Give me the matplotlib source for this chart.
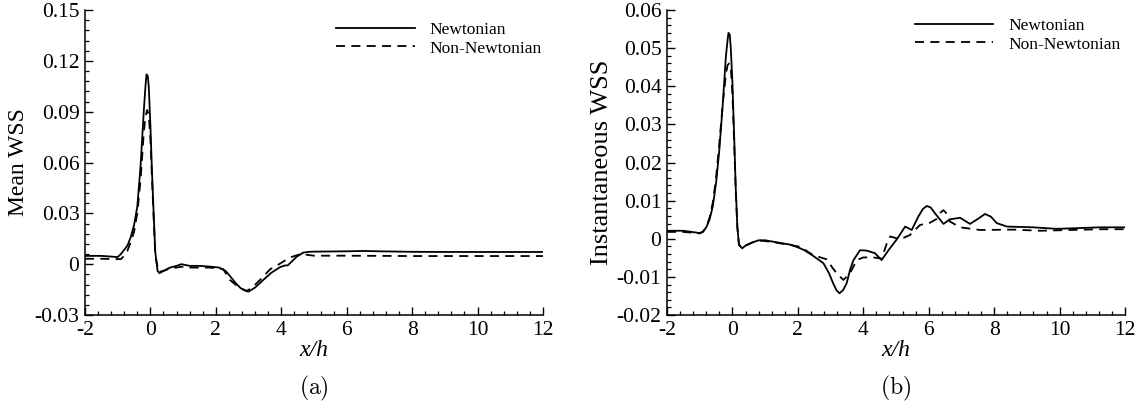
import matplotlib
matplotlib.use("Agg")
from matplotlib import pyplot as plt
from matplotlib.ticker import MultipleLocator, AutoMinorLocator

plt.rcParams['font.family'] = ['Liberation Serif', 'DejaVu Serif']
plt.rcParams['mathtext.fontset'] = 'cm'

# (a) mean wall shear stress
xa_newt = [-2.0, -1.5, -1.0, -0.9, -0.8, -0.7, -0.6, -0.5, -0.4, -0.3, -0.2, -0.15, -0.12,
           -0.08, -0.05, 0.0, 0.05, 0.1, 0.15, 0.22, 0.28, 0.4, 0.6, 0.8, 0.95, 1.2, 1.5,
           1.8, 2.1, 2.3, 2.45, 2.6, 2.75, 2.9, 3.0, 3.2, 3.45, 3.7, 3.96, 4.1, 4.2,
           4.47, 4.67, 4.85, 5.0, 5.5, 6.0, 6.5, 7.0, 8.0, 9.0, 10.0, 11.0, 12.0]
ya_newt = [0.0049, 0.0049, 0.0042, 0.006, 0.0085, 0.011, 0.016, 0.023, 0.034, 0.058, 0.091,
           0.105, 0.112, 0.111, 0.105, 0.082, 0.054, 0.030, 0.007, -0.004, -0.0053, -0.004,
           -0.002, -0.001, 0.0, -0.001, -0.001, -0.0014, -0.002, -0.004, -0.0074, -0.011,
           -0.014, -0.0157, -0.0162, -0.0138, -0.0093, -0.005, -0.0018, -0.0008, -0.0007,
           0.0044, 0.0068, 0.0073, 0.0074, 0.0075, 0.0076, 0.0078, 0.0076, 0.0073, 0.0072,
           0.0072, 0.0072, 0.0072]

xa_non = [-2.0, -1.5, -1.0, -0.9, -0.8, -0.7, -0.6, -0.5, -0.4, -0.3, -0.2, -0.15, -0.1,
          -0.05, 0.0, 0.05, 0.1, 0.15, 0.25, 0.4, 0.6, 0.8, 0.95, 1.2, 1.5, 1.8, 2.1, 2.23,
          2.43, 2.6, 2.74, 2.95, 3.1, 3.35, 3.66, 3.96, 4.27, 4.6, 4.8, 5.0, 6.0, 8.0, 10.0, 12.0]
ya_non = [0.0032, 0.0032, 0.003, 0.003, 0.005, 0.008, 0.013, 0.019, 0.030, 0.050, 0.078,
          0.087, 0.091, 0.088, 0.074, 0.050, 0.027, 0.005, -0.0045, -0.004, -0.0025,
          -0.002, -0.0015, -0.002, -0.002, -0.002, -0.0025, -0.003, -0.0093, -0.012,
          -0.0142, -0.0157, -0.014, -0.0093, -0.003, 0.0003, 0.004, 0.006, 0.0055, 0.005,
          0.005, 0.0048, 0.0048, 0.0048]

# (b) instantaneous wall shear stress
xb_newt = [-2.0, -1.5, -1.0, -0.9, -0.8, -0.7, -0.6, -0.5, -0.4, -0.3, -0.2, -0.15, -0.12,
           -0.08, -0.05, 0.0, 0.05, 0.1, 0.15, 0.2, 0.3, 0.4, 0.6, 0.8, 1.0, 1.4, 1.8, 2.07,
           2.2, 2.47, 2.78, 2.95, 3.08, 3.18, 3.27, 3.38, 3.49, 3.6, 3.7, 3.9, 4.1, 4.36,
           4.56, 4.77, 5.02, 5.28, 5.48, 5.68, 5.82, 5.94, 6.06, 6.19, 6.45, 6.65, 6.96,
           7.26, 7.5, 7.72, 7.9, 8.08, 8.39, 9.2, 9.91, 11.24, 12.0]
yb_newt = [0.0021, 0.0021, 0.0015, 0.0019, 0.003, 0.005, 0.0085, 0.0146, 0.0233, 0.0347,
           0.0478, 0.052, 0.054, 0.0535, 0.050, 0.041, 0.0277, 0.0137, 0.0032, -0.0016,
           -0.0025, -0.0018, -0.001, -0.0004, -0.0004, -0.001, -0.0016, -0.0025, -0.003,
           -0.0045, -0.0064, -0.009, -0.0117, -0.0135, -0.0143, -0.0135, -0.0117, -0.008,
           -0.0056, -0.003, -0.0031, -0.0038, -0.0056, -0.003, -0.0002, 0.0032, 0.0023,
           0.0058, 0.0078, 0.0086, 0.0082, 0.0067, 0.0039, 0.0051, 0.0055, 0.0039, 0.0052,
           0.0065, 0.0058, 0.0041, 0.0032, 0.003, 0.0026, 0.003, 0.003]

xb_non = [-2.0, -1.5, -1.0, -0.9, -0.8, -0.7, -0.6, -0.5, -0.4, -0.3, -0.2, -0.15, -0.1,
          -0.05, 0.0, 0.05, 0.1, 0.15, 0.2, 0.3, 0.4, 0.6, 0.8, 1.0, 1.4, 1.8, 2.07, 2.47,
          2.88, 3.05, 3.19, 3.39, 3.59, 3.8, 4.0, 4.31, 4.56, 4.72, 4.82, 4.95, 5.12, 5.43,
          5.73, 6.04, 6.24, 6.35, 6.45, 6.55, 6.65, 6.96, 7.57, 8.6, 9.4, 11.24, 12.0]
yb_non = [0.0018, 0.0018, 0.0014, 0.0018, 0.003, 0.0055, 0.0095, 0.016, 0.025, 0.035,
          0.043, 0.0455, 0.046, 0.045, 0.038, 0.026, 0.013, 0.003, -0.0016, -0.0024,
          -0.0018, -0.001, -0.0005, -0.0006, -0.0011, -0.0017, -0.0021, -0.0043, -0.0054,
          -0.0075, -0.0091, -0.0108, -0.0091, -0.0056, -0.0049, -0.0049, -0.0052, -0.0012,
          0.0006, 0.0003, -0.0002, 0.001, 0.0036, 0.0042, 0.0052, 0.0068, 0.0075, 0.0066,
          0.0045, 0.003, 0.0023, 0.0024, 0.0021, 0.0025, 0.0025]

labels = ["Newtonian", "Non-Newtonian"]

fig = plt.figure(figsize=(11.48, 4.09), dpi=100)
ax_a = fig.add_axes([0.074, 0.2298, 0.399, 0.7457])
ax_b = fig.add_axes([0.581, 0.2298, 0.399, 0.7457])

panels = [
    (ax_a, xa_newt, ya_newt, xa_non, ya_non, (-0.03, 0.15), 0.03, "Mean WSS", 17, 0.016,
     (0.997, 0.962), "(a)"),
    (ax_b, xb_newt, yb_newt, xb_non, yb_non, (-0.02, 0.06), 0.01, "Instantaneous WSS", 19, 0.524,
     (0.99, 0.975), "(b)"),
]

for ax, x1, y1, x2, y2, ylim, ystep, ylab, ylab_fs, ylab_x, leg_pos, tag in panels:
    ax.plot(x1, y1, color='black', lw=1.3, label=labels[0])
    ax.plot(x2, y2, color='black', lw=1.3, dashes=(5, 3.5), label=labels[1])
    ax.set_xlim(-2, 12)
    ax.set_ylim(*ylim)
    ax.xaxis.set_major_locator(MultipleLocator(2))
    ax.yaxis.set_major_locator(MultipleLocator(ystep))
    ax.xaxis.set_minor_locator(AutoMinorLocator(5))
    ax.yaxis.set_minor_locator(AutoMinorLocator(5))
    ax.spines['top'].set_visible(False)
    ax.spines['right'].set_visible(False)
    for s in ['left', 'bottom']:
        ax.spines[s].set_linewidth(1.1)
    ax.tick_params(which='major', direction='in', length=5.5, width=1.0, labelsize=15.5)
    ax.tick_params(axis='y', which='major', pad=4)
    ax.tick_params(axis='x', which='major', pad=4.5)
    ax.tick_params(which='minor', direction='in', length=3, width=0.9)
    ax.set_yticklabels(["%.2f" % v if abs(v) > 1e-9 else "0" for v in ax.get_yticks()])
    ax.set_xticklabels(["%d" % v for v in ax.get_xticks()])
    ax.legend(loc='upper right', bbox_to_anchor=leg_pos, frameon=False, fontsize=12.5,
              handlelength=4.5, handletextpad=0.85, labelspacing=0.15, borderaxespad=0,
              borderpad=0)
    pos = ax.get_position()
    cx = (pos.x0 + pos.x1) / 2
    fig.text(cx, 1 - 351 / 409, "x/h", style='italic', fontsize=17, ha='center', va='center')
    fig.text(cx, 1 - 388 / 409, r"$\mathrm{" + tag + "}$", fontsize=17, ha='center', va='center')
    fig.text(ylab_x, pos.y0 + pos.height / 2, ylab, rotation=90, fontsize=ylab_fs,
             ha='center', va='center')

plt.savefig("out.png", dpi=100)
